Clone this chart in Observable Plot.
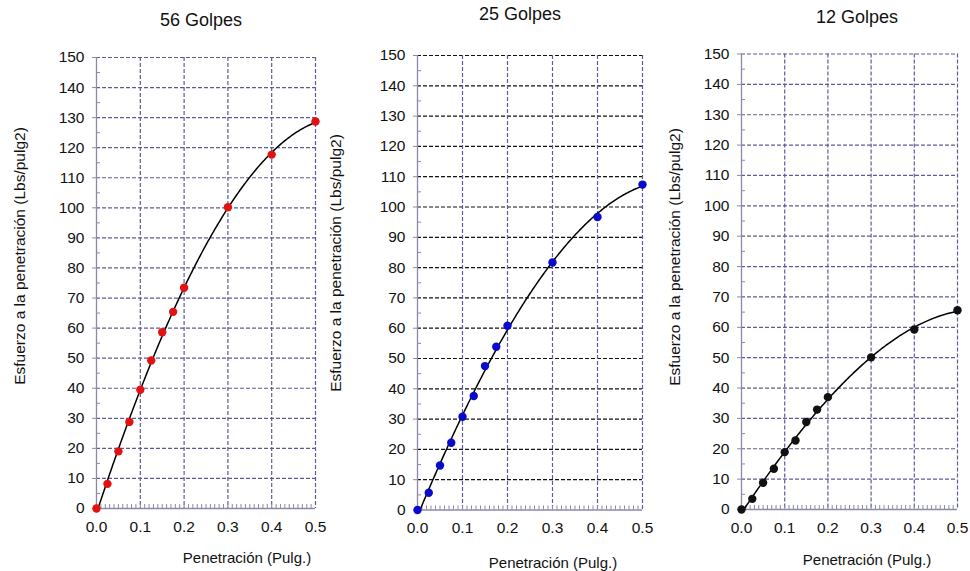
<!DOCTYPE html>
<html><head><meta charset="utf-8">
<script src="https://cdn.jsdelivr.net/npm/d3@7"></script>
<script src="https://cdn.jsdelivr.net/npm/@observablehq/plot@0.6"></script>
<style>
body{margin:0;background:#fff;font-family:"Liberation Sans",Arial,sans-serif;}
#wrap{position:relative;width:970px;height:571px;overflow:hidden;background:#fff}
.p{position:absolute;top:0}
.t{position:absolute;transform:translate(-50%,-50%);white-space:nowrap;color:#111;line-height:1}
.yl{transform:translate(-50%,-50%) rotate(-90deg)}
</style></head><body><div id="wrap"></div>
<script>
// ---- data ----
const penetracion = [0, 0.025, 0.05, 0.075, 0.1, 0.125, 0.15, 0.175, 0.2, 0.3, 0.4, 0.5];
const esfuerzo56 = [0, 8.2, 19.0, 28.8, 39.5, 49.2, 58.6, 65.4, 73.4, 100.2, 117.7, 128.7];
const esfuerzo25 = [0, 5.7, 14.7, 22.2, 30.8, 37.6, 47.5, 53.9, 60.8, 81.7, 96.7, 107.4];
const esfuerzo12 = [0, 3.5, 8.8, 13.4, 18.9, 22.7, 28.8, 32.9, 37.0, 50.1, 59.3, 65.6];
const titles = ["56 Golpes", "25 Golpes", "12 Golpes"];
const xLabel = "Penetración (Pulg.)";
const yLabel = "Esfuerzo a la penetración (Lbs/pulg2)";
const xTicks = [0, 0.1, 0.2, 0.3, 0.4, 0.5];
const yTicks = [0, 10, 20, 30, 40, 50, 60, 70, 80, 90, 100, 110, 120, 130, 140, 150];
const yMinor = yTicks.slice(1).map(v => v - 5);
const xMinor = d3.range(1, 50).map(i => i / 100);

// ---- least-squares polynomial trendline (like a spreadsheet trendline) ----
function polyfit(xs, ys, deg) {
  const n = deg + 1;
  const A = Array.from({length: n}, () => new Array(n + 1).fill(0));
  for (let i = 0; i < xs.length; i++)
    for (let r = 0; r < n; r++) {
      for (let c = 0; c < n; c++) A[r][c] += xs[i] ** (r + c);
      A[r][n] += ys[i] * xs[i] ** r;
    }
  for (let i = 0; i < n; i++) {
    let p = i;
    for (let k = i + 1; k < n; k++) if (Math.abs(A[k][i]) > Math.abs(A[p][i])) p = k;
    [A[i], A[p]] = [A[p], A[i]];
    for (let k = i + 1; k < n; k++) {
      const f = A[k][i] / A[i][i];
      for (let j = i; j <= n; j++) A[k][j] -= f * A[i][j];
    }
  }
  const c = new Array(n).fill(0);
  for (let i = n - 1; i >= 0; i--) {
    let s = A[i][n];
    for (let j = i + 1; j < n; j++) s -= A[i][j] * c[j];
    c[i] = s / A[i][i];
  }
  return x => c.reduce((s, ci, k) => s + ci * x ** k, 0);
}

const series = [esfuerzo56, esfuerzo25, esfuerzo12];
const panels = [
  {left: 0, width: 330, ml: 96, mr: 15, mt: 57, mb: 63, dot: "#e01212", hGrid: "#5c5c94", vGrid: "#5c5c94",
   title: [201, 20], xl: [247, 557], yl: [20, 256]},
  {left: 330, width: 320, ml: 87, mr: 8, mt: 55, mb: 61.5, dot: "#0a0acc", hGrid: "#111111", vGrid: "#5c5c94",
   title: [520, 14], xl: [553, 562], yl: [336, 263]},
  {left: 650, width: 320, ml: 91, mr: 13, mt: 53.5, mb: 62, dot: "#111111", hGrid: "#5c5c94", vGrid: "#5c5c94",
   title: [857, 17], xl: [867, 559], yl: [675, 257]}
];
const axisColor = "#8a8aa6";
const wrap = document.getElementById("wrap");

panels.forEach((p, k) => {
  const ys = series[k];
  const data = penetracion.map((x, i) => ({x, y: ys[i]}));
  const f = polyfit(penetracion, ys, 3);
  const fit = d3.range(0, 201).map(i => { const x = i * 0.0025; return {x, y: f(x)}; });
  const chart = Plot.plot({
    width: p.width, height: 571,
    marginLeft: p.ml, marginRight: p.mr, marginTop: p.mt, marginBottom: p.mb,
    x: {domain: [0, 0.5]}, y: {domain: [0, 150]},
    style: {fontFamily: '"Liberation Sans", Arial, sans-serif', fontSize: "15px", color: "#111", background: "transparent", overflow: "visible"},
    marks: [
      Plot.gridY(yTicks.slice(1), {stroke: p.hGrid, strokeOpacity: 1, strokeDasharray: "4,2", strokeWidth: 1.2}),
      Plot.gridX(xTicks.slice(1), {stroke: p.vGrid, strokeOpacity: 1, strokeDasharray: "4,2", strokeWidth: 1.2}),
      Plot.ruleX([0], {stroke: axisColor, strokeWidth: 1.3}),
      Plot.ruleY([0], {stroke: axisColor, strokeWidth: 1.3}),
      Plot.axisY(yTicks, {tickSize: 4, tickPadding: 8, stroke: axisColor, fill: "#111", label: null, fontSize: 15.5}),
      Plot.axisY(yMinor, {tickSize: 4, dx: 4, tickFormat: () => "", label: null, stroke: axisColor}),
      Plot.axisX(xTicks, {tickSize: 0, tickPadding: 12, tickFormat: d3.format(".1f"), stroke: axisColor, fill: "#111", label: null, fontSize: 15.5}),
      Plot.axisX(xMinor, {tickSize: 4, dy: -4, tickFormat: () => "", label: null, stroke: axisColor}),
      Plot.line(fit, {x: "x", y: "y", stroke: "#000", strokeWidth: 1.5, clip: true}),
      Plot.dot(data, {x: "x", y: "y", r: 4.2, fill: p.dot, stroke: null})
    ]
  });
  chart.classList.add("p");
  chart.style.left = p.left + "px";
  wrap.appendChild(chart);

  const addText = (txt, [x, y], size, cls) => {
    const d = document.createElement("div");
    d.className = "t" + (cls ? " " + cls : "");
    d.textContent = txt;
    d.style.left = x + "px"; d.style.top = y + "px"; d.style.fontSize = size + "px";
    wrap.appendChild(d);
  };
  addText(titles[k], p.title, 18);
  addText(xLabel, p.xl, 15);
  addText(yLabel, p.yl, 15.5, "yl");
});
</script>
</body></html>
